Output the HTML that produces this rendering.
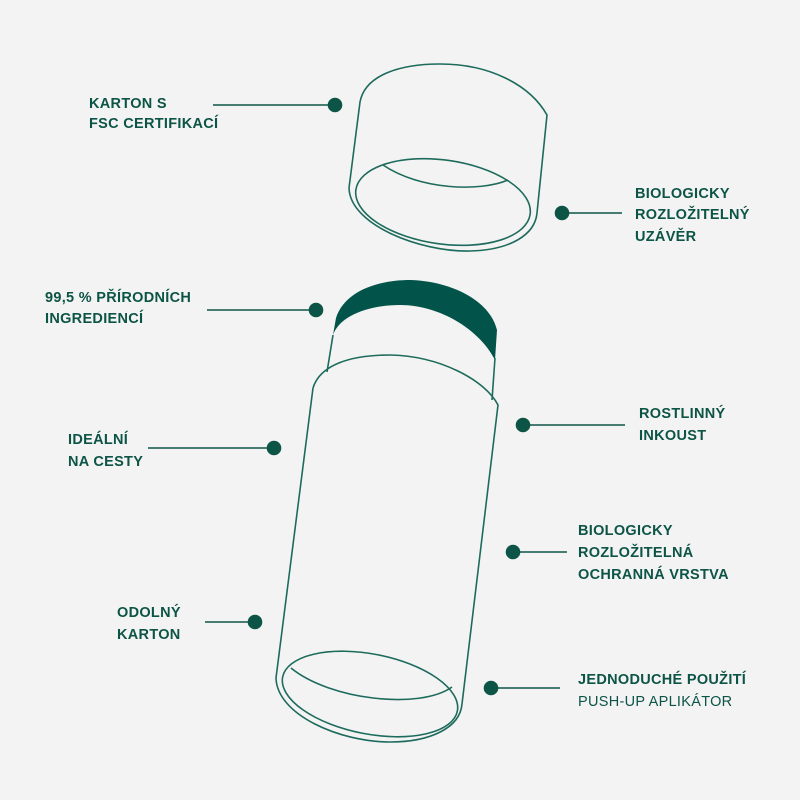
<!DOCTYPE html>
<html><head><meta charset="utf-8"><style>
body{margin:0;background:#f4f3f3;}
svg{display:block}
text{font-family:"Liberation Sans",sans-serif;font-size:14.5px;font-weight:bold;fill:#0c5446;letter-spacing:0.3px}
</style></head><body>
<svg width="800" height="800" viewBox="0 0 800 800">
<rect width="800" height="800" fill="#f4f3f3"/>
<path d="M336,318 C345,290 380,280 410,280 C450,281 490,300 497,330 L495,360 C480,330 440,305 400,305 C370,305 340,315 333,335 Z" fill="#02544a"/>
<g fill="none" stroke="#1d6b5c" stroke-width="1.6">
<!-- cap -->
<path d="M360,102 C365,75 400,64 440,64 C490,64 530,85 547,115 L537,213"/>
<path d="M360,102 L349,188"/>
<path d="M349,188 C350,225 420,252 470,251 C510,250 535,235 537,213"/>
<ellipse cx="443" cy="202" rx="88" ry="42" transform="rotate(8 443 202)"/>
<path d="M383,165 C420,190 480,192 508,180"/>
<!-- tube neck -->
<path d="M333,335 L327,372"/>
<path d="M495,358 L492,400"/>
<!-- tube body -->
<path d="M313,388 C320,365 350,355 390,355 C440,356 485,380 498,405 L462,704"/>
<path d="M313,388 L276,678"/>
<path d="M276,678 C277,715 340,742 390,742 C430,742 460,728 462,704"/>
<ellipse cx="370" cy="694" rx="89" ry="40" transform="rotate(11 370 694)"/>
<path d="M291,668 C330,700 420,710 452,687"/>
</g>
<g stroke="#0c5446" stroke-width="1.6" fill="#0c5446">
<line x1="213" y1="105" x2="335" y2="105"/><circle cx="335" cy="105" r="6.5"/>
<line x1="562" y1="213" x2="622" y2="213"/><circle cx="562" cy="213" r="6.5"/>
<line x1="207" y1="310" x2="316" y2="310"/><circle cx="316" cy="310" r="6.5"/>
<line x1="523" y1="425" x2="625" y2="425"/><circle cx="523" cy="425" r="6.5"/>
<line x1="148" y1="448" x2="274" y2="448"/><circle cx="274" cy="448" r="6.5"/>
<line x1="513" y1="552" x2="567" y2="552"/><circle cx="513" cy="552" r="6.5"/>
<line x1="205" y1="622" x2="255" y2="622"/><circle cx="255" cy="622" r="6.5"/>
<line x1="491" y1="688" x2="560" y2="688"/><circle cx="491" cy="688" r="6.5"/>
</g>
<text x="89" y="108">KARTON S</text>
<text x="89" y="128">FSC CERTIFIKACÍ</text>
<text x="635" y="198">BIOLOGICKY</text>
<text x="635" y="219">ROZLOŽITELNÝ</text>
<text x="635" y="241">UZÁVĚR</text>
<text x="45" y="302">99,5 % PŘÍRODNÍCH</text>
<text x="45" y="323">INGREDIENCÍ</text>
<text x="639" y="418">ROSTLINNÝ</text>
<text x="639" y="440">INKOUST</text>
<text x="68" y="444">IDEÁLNÍ</text>
<text x="68" y="466">NA CESTY</text>
<text x="578" y="535">BIOLOGICKY</text>
<text x="578" y="557">ROZLOŽITELNÁ</text>
<text x="578" y="579">OCHRANNÁ VRSTVA</text>
<text x="117" y="617">ODOLNÝ</text>
<text x="117" y="639">KARTON</text>
<text x="578" y="684">JEDNODUCHÉ POUŽITÍ</text>
<text x="578" y="706" style="font-weight:normal">PUSH-UP APLIKÁTOR</text>
</svg>
</body></html>
